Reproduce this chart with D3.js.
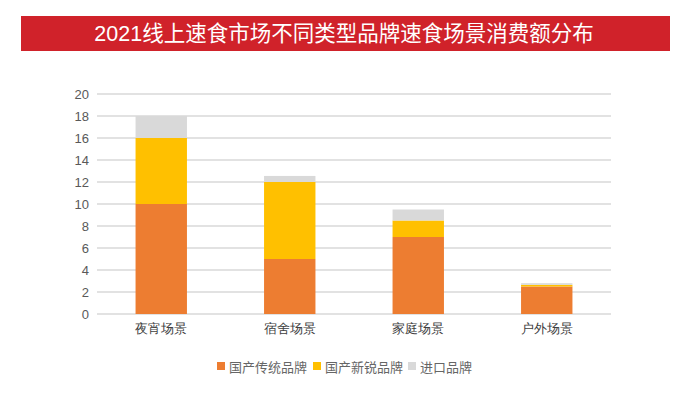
<!DOCTYPE html>
<html><head><meta charset="utf-8">
<script src="https://cdn.jsdelivr.net/npm/d3@7"></script>
<style>body{margin:0;background:#fff;}svg{display:block;font-family:"Noto Sans CJK SC","Noto Sans",sans-serif;}</style>
</head><body><svg id="c" width="687" height="395"></svg>
<script>
const title = "2021线上速食市场不同类型品牌速食场景消费额分布";
const categories = ["夜宵场景", "宿舍场景", "家庭场景", "户外场景"];
const seriesNames = ["国产传统品牌", "国产新锐品牌", "进口品牌"];
const traditional = [10, 5, 7, 2.5];
const emerging = [6, 7, 1.5, 0.15];
const imported = [2, 0.55, 1.0, 0.15];
const yTicks = [0, 2, 4, 6, 8, 10, 12, 14, 16, 18, 20];
const colors = ["#ED7D31", "#FFC000", "#D9D9D9"];

const svg = d3.select("#c");
svg.append("rect").attr("x", 21).attr("y", 16).attr("width", 649).attr("height", 35).attr("fill", "#D0222A");
svg.append("text").attr("x", 344).attr("y", 34).attr("text-anchor", "middle").attr("dominant-baseline", "central")
  .attr("fill", "#fff").attr("font-size", 21.5).attr("font-family", "Liberation Sans, Noto Sans CJK SC, sans-serif").text(title);

const x = d3.scaleBand().domain(categories).range([97, 611]).paddingInner(0.6).paddingOuter(0.3);
const y = d3.scaleLinear().domain([0, 20]).range([314, 94]);

const g = svg.append("g");
g.selectAll("line.grid").data(yTicks).join("line").attr("class", "grid")
  .attr("x1", 97).attr("x2", 611).attr("y1", d => y(d)).attr("y2", d => y(d))
  .attr("stroke", "#D9D9D9").attr("stroke-width", 1.3);

const yAxis = d3.axisLeft(y).tickValues(yTicks).tickSize(0).tickPadding(0);
const ya = svg.append("g").attr("transform", "translate(89,0)").call(yAxis);
ya.select(".domain").remove();
ya.selectAll("text").attr("fill", "#595959").attr("font-size", 13).attr("font-family", "Liberation Sans, sans-serif");

const rows = categories.map((c, i) => ({cat: c, a: traditional[i], b: emerging[i], c: imported[i]}));
const stack = d3.stack().keys(["a", "b", "c"])(rows);
stack.forEach((layer, li) => {
  g.selectAll(null).data(layer).join("rect")
    .attr("x", d => x(d.data.cat)).attr("width", x.bandwidth())
    .attr("y", d => y(d[1])).attr("height", d => y(d[0]) - y(d[1]))
    .attr("fill", colors[li]);
});

const xAxis = d3.axisBottom(x).tickSize(0).tickPadding(10);
const xa = svg.append("g").attr("transform", "translate(0,314)").call(xAxis);
xa.select(".domain").remove();
xa.selectAll("text").attr("fill", "#404040").attr("font-size", 13);

const legendX = [217, 313, 408];
const lg = svg.append("g");
seriesNames.forEach((n, i) => {
  lg.append("rect").attr("x", legendX[i]).attr("y", 362).attr("width", 8).attr("height", 8).attr("fill", colors[i]);
  lg.append("text").attr("x", legendX[i] + 12).attr("y", 366).attr("dominant-baseline", "central")
    .attr("fill", "#666666").attr("font-size", 13).text(n);
});
</script></body></html>
